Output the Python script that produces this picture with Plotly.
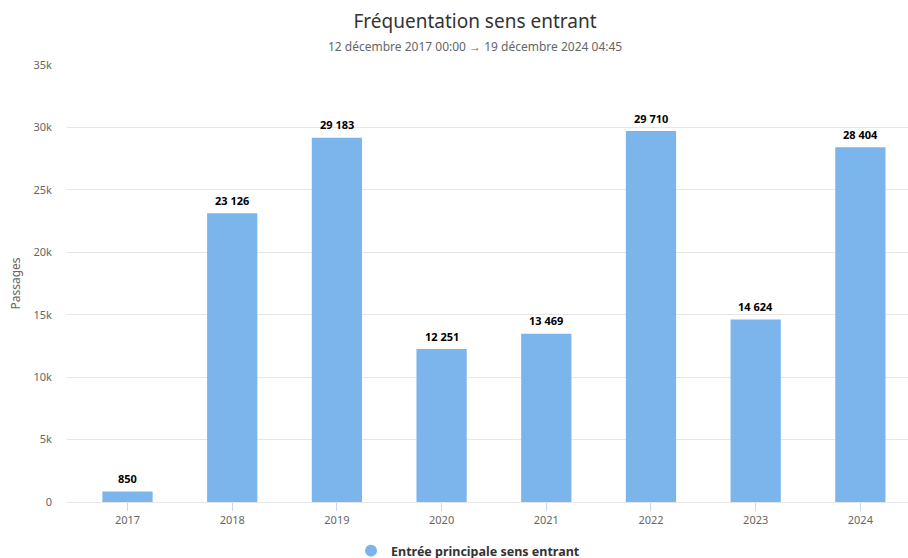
import plotly.graph_objects as go

years = ["2017", "2018", "2019", "2020", "2021", "2022", "2023", "2024"]
passages = [850, 23126, 29183, 12251, 13469, 29710, 14624, 28404]
series_name = "Entrée principale sens entrant"
title_text = "Fréquentation sens entrant"
subtitle_text = "12 décembre 2017 00:00 → 19 décembre 2024 04:45"
y_ticks = [0, 5000, 10000, 15000, 20000, 25000, 30000, 35000]
y_tick_labels = ["0", "5k", "10k", "15k", "20k", "25k", "30k", "35k"]

FONT = "Noto Sans"
BAR_COLOR = "#7cb5ec"
W, H = 908, 558
M_L, M_R, M_T, M_B = 67, 0, 65, 56
PLOT_W, PLOT_H = W - M_L - M_R, H - M_T - M_B

def fmt(v):
    return f"{v:,}".replace(",", " ")

fig = go.Figure()
fig.add_trace(go.Bar(
    x=list(range(len(years))),
    y=passages,
    name=series_name,
    marker=dict(color=BAR_COLOR, line=dict(width=0)),
    width=0.48,
    showlegend=False,
))
# legend entry drawn with a round symbol
fig.add_trace(go.Scatter(
    x=[None], y=[None], mode="markers", name=series_name,
    marker=dict(color=BAR_COLOR, size=11, symbol="circle"),
    showlegend=True,
))

# value labels above each bar
for i, v in enumerate(passages):
    fig.add_annotation(
        x=i, y=v, xref="x", yref="y",
        text=f"<b>{fmt(v)}</b>", showarrow=False,
        yshift=13, font=dict(family=FONT, size=11, color="#000000"),
    )

# subtitle under the title
fig.add_annotation(
    x=(475 - M_L) / PLOT_W, y=1 + (M_T - 46) / PLOT_H, xref="paper", yref="paper",
    xanchor="center", yanchor="middle", showarrow=False,
    text=subtitle_text, font=dict(family=FONT, size=12, color="#666666"),
)

fig.update_layout(
    width=W, height=H,
    margin=dict(l=M_L, r=M_R, t=M_T, b=M_B),
    paper_bgcolor="white", plot_bgcolor="white",
    font=dict(family=FONT, color="#666666"),
    bargap=0.52,
    title=dict(
        text=title_text, x=475 / W, xanchor="center", xref="container",
        y=1 - 21 / H, yanchor="middle", yref="container",
        font=dict(family=FONT, size=19, color="#333333"),
    ),
    legend=dict(
        orientation="h", xref="container", yref="container",
        x=468 / W, xanchor="center", y=(H - 551) / H, yanchor="middle",
        font=dict(family=FONT, size=12.5, color="#333333", weight="bold"),
        itemsizing="constant", itemwidth=30,
    ),
)
fig.update_xaxes(
    range=[-0.578, 7.455],
    tickmode="array", tickvals=list(range(len(years))), ticktext=years,
    tickfont=dict(family=FONT, size=11, color="#666666"),
    showgrid=False, zeroline=False,
    showline=False,
    ticks="outside", ticklen=8, tickcolor="#ccd6eb", tickwidth=1,
)
fig.update_yaxes(
    range=[0, 35000],
    tickmode="array", tickvals=y_ticks, ticktext=y_tick_labels,
    tickfont=dict(family=FONT, size=11, color="#666666"),
    showgrid=True, gridcolor="#e6e6e6", gridwidth=1,
    zeroline=True, zerolinecolor="#e6e6e6", zerolinewidth=1,
    ticklabelstandoff=14,
    title=dict(text="Passages", font=dict(family=FONT, size=12, color="#666666"), standoff=10),
)

fig.write_html("out.html")
